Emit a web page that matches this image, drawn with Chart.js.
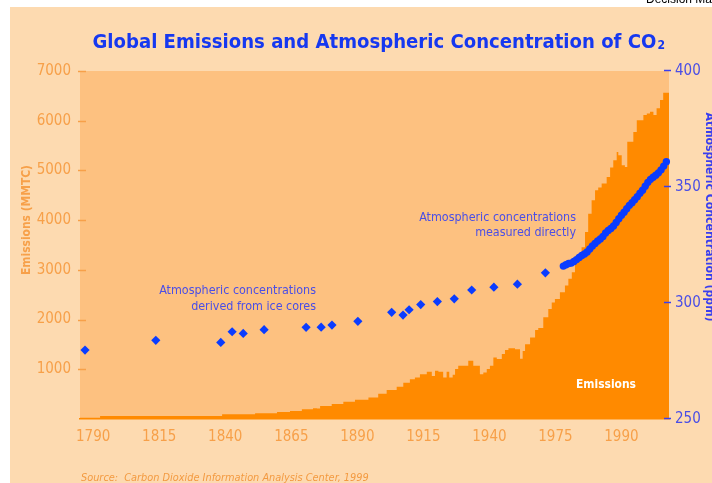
<!DOCTYPE html>
<html>
<head>
<meta charset="utf-8">
<title>Global Emissions and Atmospheric Concentration of CO2</title>
<script src="https://cdn.jsdelivr.net/npm/chart.js@4/dist/chart.umd.min.js"></script>
<style>
  html, body { margin: 0; padding: 0; background: #ffffff; overflow: hidden; }
  canvas { display: block; }
</style>
</head>
<body>
<canvas id="co2chart" width="712" height="483"></canvas>
<script>
// Year axis: tick positions and the labels printed beneath them
const xTickValues = [1790, 1815, 1840, 1865, 1890, 1915, 1940, 1965, 1990];
const xTickLabels = ['1790', '1815', '1840', '1865', '1890', '1915', '1940', '1975', '1990'];
const emissionTickValues = [1000, 2000, 3000, 4000, 5000, 6000, 7000];
const concentrationTickValues = [250, 300, 350, 400];

// Global carbon emissions (MMTC); each value holds from its year until the next one
const emissionYears = [
  1785.0, 1792.6, 1838.8, 1851.3, 1859.6, 1864.5, 1869.0, 1873.2, 1874.7, 1875.9,
  1880.3, 1884.7, 1889.1, 1894.2, 1897.9, 1901.1, 1904.9, 1907.4, 1909.9, 1911.8,
  1913.7, 1916.3, 1918.2, 1919.4, 1920.7, 1922.5, 1923.8, 1924.8, 1926.1, 1927.0,
  1928.2, 1932.0, 1933.9, 1936.4, 1937.7, 1939.0, 1940.2, 1941.5, 1942.8, 1944.7,
  1945.9, 1947.2, 1949.7, 1951.6, 1952.6, 1953.5, 1955.4, 1957.3, 1958.5, 1960.4,
  1962.3, 1963.6, 1964.8, 1966.7, 1968.6, 1969.9, 1971.2, 1972.4, 1973.7, 1974.9,
  1976.2, 1977.4, 1978.7, 1980.0, 1981.2, 1982.5, 1984.4, 1985.7, 1986.9, 1988.2,
  1988.8, 1990.1, 1991.3, 1992.2, 1994.5, 1995.8, 1998.3, 1999.6, 2000.8, 2002.1,
  2003.3, 2004.6, 2005.8, 2006.9, 2008.0
];
const emissionValues = [
  5, 25, 60, 95, 115, 140, 160, 195, 215, 210,
  260, 300, 345, 385, 430, 510, 585, 650, 730, 800,
  835, 900, 950, 865, 970, 950, 835, 950, 835, 890,
  1005, 1070, 1170, 1070, 900, 935, 1005, 1070, 1235, 1205,
  1305, 1390, 1425, 1405, 1210, 1370, 1505, 1640, 1790, 1830,
  2045, 2215, 2345, 2415, 2550, 2685, 2820, 2950, 3155, 3290,
  3455, 3760, 4130, 4400, 4600, 4655, 4735, 4870, 5060, 5205,
  5370, 5305, 5105, 5070, 5575, 5775, 6010, 6115, 6145, 6180,
  6115, 6250, 6415, 6565, 6565
];

// Atmospheric CO2 derived from ice cores (ppm)
const iceCoreYears = [
  1786.9, 1813.7, 1838.3, 1842.6, 1846.8, 1854.7, 1870.6, 1876.3, 1880.4, 1890.2,
  1903.0, 1907.3, 1909.6, 1914.0, 1920.3, 1926.7, 1933.3, 1941.7, 1950.6, 1961.2
];
const iceCorePpm = [
  279.7, 283.9, 283.0, 287.6, 286.9, 288.5, 289.5, 289.6, 290.5, 292.1,
  296.0, 294.8, 297.1, 299.3, 300.6, 301.8, 305.6, 306.8, 308.1, 313.0
];

// Atmospheric CO2 measured directly (ppm), one point per year
const measuredYears = [
  1968, 1969, 1970, 1971, 1972, 1973, 1974, 1975, 1976, 1977,
  1978, 1979, 1980, 1981, 1982, 1983, 1984, 1985, 1986, 1987,
  1988, 1989, 1990, 1991, 1992, 1993, 1994, 1995, 1996, 1997,
  1998, 1999, 2000, 2001, 2002, 2003, 2004, 2005, 2006, 2007
];
const measuredPpm = [
  315.9, 316.5, 317.0, 317.2, 317.9, 318.7, 319.6, 320.5, 321.1, 322.0,
  323.3, 324.6, 325.7, 326.7, 327.6, 328.7, 330.2, 331.3, 332.1, 333.2,
  334.7, 336.3, 337.8, 339.1, 340.6, 342.1, 343.2, 344.5, 345.8, 347.3,
  348.6, 350.3, 352.0, 353.3, 354.2, 355.1, 356.1, 357.4, 359.0, 360.9
];

const NARROW = "'Liberation Sans Narrow', 'Arial Narrow', 'DejaVu Sans Condensed', sans-serif";
const ORANGE_TEXT = '#f7a049';
const BLUE_TEXT = '#4a4ee6';
const BLUE_MARK = '#0a3cff';
const PANEL = '#fddab0';
const PLOT_BG = '#fdc180';
const EMISSION_FILL = '#ff8a00';

const pairs = (xs, ys) => xs.map((x, i) => ({ x: x, y: ys[i] }));

// Font size that makes a string span the given width
function fittedSize(ctx, text, width, style) {
  ctx.font = `${style} 20px ${NARROW}`;
  return 20 * width / ctx.measureText(text).width;
}

function drawFitted(ctx, text, x, y, width, opts) {
  const size = fittedSize(ctx, text, width, opts.style || '');
  ctx.font = `${opts.style || ''} ${size}px ${NARROW}`;
  ctx.fillStyle = opts.color;
  ctx.textAlign = opts.align || 'left';
  ctx.textBaseline = opts.baseline || 'alphabetic';
  ctx.fillText(text, x, y);
}

const decor = {
  id: 'decor',
  beforeDraw(chart) {
    const { ctx, chartArea: a } = chart;
    ctx.save();
    ctx.fillStyle = '#ffffff';
    ctx.fillRect(0, 0, chart.width, chart.height);
    ctx.fillStyle = PANEL;
    ctx.fillRect(10, 7, chart.width - 10, chart.height - 7);
    ctx.fillStyle = PLOT_BG;
    ctx.fillRect(a.left, a.top, a.right - a.left, a.bottom - a.top);
    ctx.restore();
  },
  afterDraw(chart) {
    const { ctx } = chart;
    const yL = chart.scales.y, yR = chart.scales.y2;
    ctx.save();

    // short tick marks beside both value axes
    ctx.lineWidth = 1.5;
    ctx.strokeStyle = ORANGE_TEXT;
    yL.ticks.forEach(t => {
      const py = Math.round(yL.getPixelForValue(t.value)) + 0.5;
      ctx.beginPath(); ctx.moveTo(78, py); ctx.lineTo(86, py); ctx.stroke();
    });
    ctx.strokeStyle = '#3a3ef0';
    yR.ticks.forEach(t => {
      const py = Math.round(yR.getPixelForValue(t.value)) - 0.5;
      ctx.beginPath(); ctx.moveTo(664, py); ctx.lineTo(671, py); ctx.stroke();
    });

    // chart title with subscript 2
    const main = 'Global Emissions and Atmospheric Concentration of CO';
    ctx.font = `bold 20px ${NARROW}`;
    const wMain20 = ctx.measureText(main).width;
    ctx.font = `bold 12px ${NARROW}`;
    const wSub20 = ctx.measureText('2').width;
    const size = 20 * 572 / (wMain20 + wSub20);
    const x0 = 378.5 - 286;
    ctx.fillStyle = '#1638f0';
    ctx.textAlign = 'left';
    ctx.textBaseline = 'alphabetic';
    ctx.font = `bold ${size}px ${NARROW}`;
    ctx.fillText(main, x0, 48);
    const wMain = ctx.measureText(main).width;
    ctx.font = `bold ${size * 0.6}px ${NARROW}`;
    ctx.fillText('2', x0 + wMain + 1, 49);

    // cut-off header text at the top right
    ctx.font = `12px 'Liberation Sans', Arial, sans-serif`;
    ctx.fillStyle = '#000000';
    ctx.fillText('Decision Makers', 646, 3);

    // axis titles
    ctx.save();
    ctx.translate(27, 220);
    ctx.rotate(-Math.PI / 2);
    drawFitted(ctx, 'Emissions (MMTC)', 0, 0, 110, { style: 'bold', color: ORANGE_TEXT, align: 'center', baseline: 'middle' });
    ctx.restore();

    ctx.save();
    ctx.translate(706, 217);
    ctx.rotate(Math.PI / 2);
    drawFitted(ctx, 'Atmospheric Concentration (ppm)', 0, 0, 209, { style: 'bold', color: '#3a3ef0', align: 'center', baseline: 'alphabetic' });
    ctx.restore();

    // notes inside the plot
    const noteSize = fittedSize(ctx, 'Atmospheric concentrations', 157, '');
    ctx.font = `${noteSize}px ${NARROW}`;
    ctx.fillStyle = BLUE_TEXT;
    ctx.textAlign = 'right';
    ctx.textBaseline = 'alphabetic';
    ctx.fillText('Atmospheric concentrations', 316, 294);
    ctx.fillText('derived from ice cores', 316, 310);
    ctx.fillText('Atmospheric concentrations', 576, 221);
    ctx.fillText('measured directly', 576, 236);

    drawFitted(ctx, 'Emissions', 576, 388, 60, { style: 'bold', color: '#ffffff' });

    // source line
    drawFitted(ctx, 'Source:  Carbon Dioxide Information Analysis Center, 1999', 81, 481, 288, { style: 'italic', color: '#f39a40' });

    ctx.restore();
  }
};

new Chart(document.getElementById('co2chart'), {
  type: 'line',
  data: {
    datasets: [
      {
        label: 'Ice cores',
        data: pairs(iceCoreYears, iceCorePpm),
        yAxisID: 'y2',
        showLine: false,
        pointStyle: 'rectRot',
        pointRadius: 4.6,
        pointBackgroundColor: BLUE_MARK,
        pointBorderWidth: 0,
        clip: false,
        order: 0
      },
      {
        label: 'Measured directly',
        data: pairs(measuredYears, measuredPpm),
        yAxisID: 'y2',
        showLine: false,
        pointStyle: 'circle',
        pointRadius: 3.7,
        pointBackgroundColor: BLUE_MARK,
        pointBorderWidth: 0,
        clip: false,
        order: 0
      },
      {
        label: 'Emissions',
        data: pairs(emissionYears, emissionValues),
        yAxisID: 'y',
        stepped: 'after',
        fill: 'origin',
        backgroundColor: EMISSION_FILL,
        borderColor: EMISSION_FILL,
        borderWidth: 0,
        pointRadius: 0,
        order: 2
      }
    ]
  },
  options: {
    responsive: false,
    animation: false,
    devicePixelRatio: 1,
    layout: { padding: { top: 71, left: 0, right: 0, bottom: 0 } },
    plugins: {
      legend: { display: false },
      tooltip: { enabled: false },
      title: { display: false }
    },
    scales: {
      x: {
        type: 'linear',
        min: 1785,
        max: 2008,
        afterBuildTicks: s => { s.ticks = xTickValues.map(v => ({ value: v })); },
        afterFit: s => { s.height = 64; },
        grid: { display: false, drawTicks: false },
        border: { display: true, color: EMISSION_FILL, width: 1.5 },
        ticks: {
          autoSkip: false,
          maxRotation: 0,
          padding: 9,
          color: ORANGE_TEXT,
          font: { family: NARROW, size: 15 },
          callback: (v, i) => xTickLabels[i]
        }
      },
      y: {
        position: 'left',
        min: 0,
        max: 7000,
        afterBuildTicks: s => { s.ticks = emissionTickValues.map(v => ({ value: v })); },
        afterFit: s => { s.width = 80; },
        grid: { display: false, drawTicks: false },
        border: { display: false },
        ticks: {
          padding: 9,
          color: ORANGE_TEXT,
          font: { family: NARROW, size: 15 },
          callback: v => String(v)
        }
      },
      y2: {
        position: 'right',
        min: 250,
        max: 400,
        afterBuildTicks: s => { s.ticks = concentrationTickValues.map(v => ({ value: v })); },
        afterFit: s => { s.width = 43; },
        grid: { display: false, drawTicks: false },
        border: { display: false },
        ticks: {
          padding: 6,
          color: BLUE_TEXT,
          font: { family: NARROW, size: 15 },
          callback: v => String(v)
        }
      }
    }
  },
  plugins: [decor]
});
</script>
</body>
</html>
